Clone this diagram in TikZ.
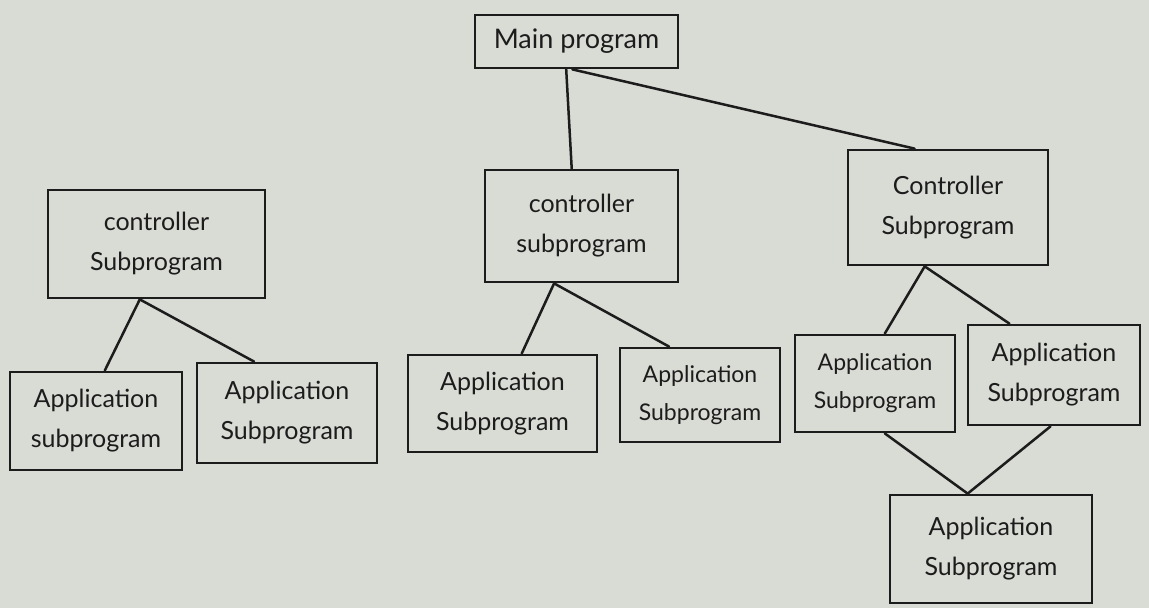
\documentclass[tikz,border=0pt]{standalone}
\usepackage{fontspec}
\setmainfont{Lato}
\usetikzlibrary{calc}
\definecolor{paper}{HTML}{D9DBD5}
\definecolor{ink}{HTML}{1C1C1C}
\tikzset{
  block/.style={draw=ink, line width=2.8pt, text=ink, align=center,
    inner sep=0pt, font=\fontsize{25}{40}\selectfont},
  link/.style={draw=ink, line width=2.5pt, line cap=round},
}
\begin{document}
\begin{tikzpicture}[x=1pt,y=-1pt]
  % page and paper
  \fill[paper] (0,0) rectangle (1149,608);
  \useasboundingbox (0,0) rectangle (1149,608);

  % top level
  \node[block, minimum width=203pt, minimum height=53pt, font=\fontsize{27}{32}\selectfont] (main) at (576.5,41.5) {Main program};

  % controllers
  \node[block, minimum width=217pt, minimum height=108pt] (lc) at (156.5,244) {controller\\Subprogram};
  \node[block, minimum width=193pt, minimum height=112pt] (mc) at (581.5,226) {controller\\subprogram};
  \node[block, minimum width=200pt, minimum height=115pt] (rc) at (948,207.5) {Controller\\Subprogram};

  % application subprograms
  \node[block, minimum width=172pt, minimum height=98pt]  (a1) at (96,421)     {Application\\subprogram};
  \node[block, minimum width=180pt, minimum height=100pt] (a2) at (287,413)    {Application\\Subprogram};
  \node[block, minimum width=189pt, minimum height=97pt]  (a3) at (502.5,403.5){Application\\Subprogram};
  \node[block, minimum width=160pt, minimum height=94pt, font=\fontsize{23}{38}\selectfont]  (a4) at (700,395) {Application\\Subprogram};
  \node[block, minimum width=160pt, minimum height=97pt, font=\fontsize{23}{38}\selectfont]  (a5) at (875,383.5) {Application\\Subprogram};
  \node[block, minimum width=172pt, minimum height=100pt] (a6) at (1054,375)   {Application\\Subprogram};
  \node[block, minimum width=202pt, minimum height=108pt] (a7) at (991,549)    {Application\\Subprogram};

  % main program links
  \draw[link] ($(main.south west)!0.45!(main.south east)$) -- ($(mc.north west)!0.45!(mc.north east)$);
  \draw[link] ($(main.south west)!0.48!(main.south east)$) -- ($(rc.north west)!0.335!(rc.north east)$);

  % left controller links
  \draw[link] ($(lc.south west)!0.424!(lc.south east)$) -- ($(a1.north west)!0.55!(a1.north east)$);
  \draw[link] ($(lc.south west)!0.424!(lc.south east)$) -- ($(a2.north west)!0.32!(a2.north east)$);

  % middle controller links
  \draw[link] ($(mc.south west)!0.36!(mc.south east)$) -- ($(a3.north west)!0.6!(a3.north east)$);
  \draw[link] ($(mc.south west)!0.36!(mc.south east)$) -- ($(a4.north west)!0.31!(a4.north east)$);

  % right controller links
  \draw[link] ($(rc.south west)!0.385!(rc.south east)$) -- ($(a5.north west)!0.56!(a5.north east)$);
  \draw[link] ($(rc.south west)!0.385!(rc.south east)$) -- ($(a6.north west)!0.245!(a6.north east)$);

  % shared application subprogram
  \draw[link] ($(a5.south west)!0.56!(a5.south east)$) -- ($(a7.north west)!0.386!(a7.north east)$);
  \draw[link] ($(a6.south west)!0.48!(a6.south east)$) -- ($(a7.north west)!0.386!(a7.north east)$);
\end{tikzpicture}
\end{document}
